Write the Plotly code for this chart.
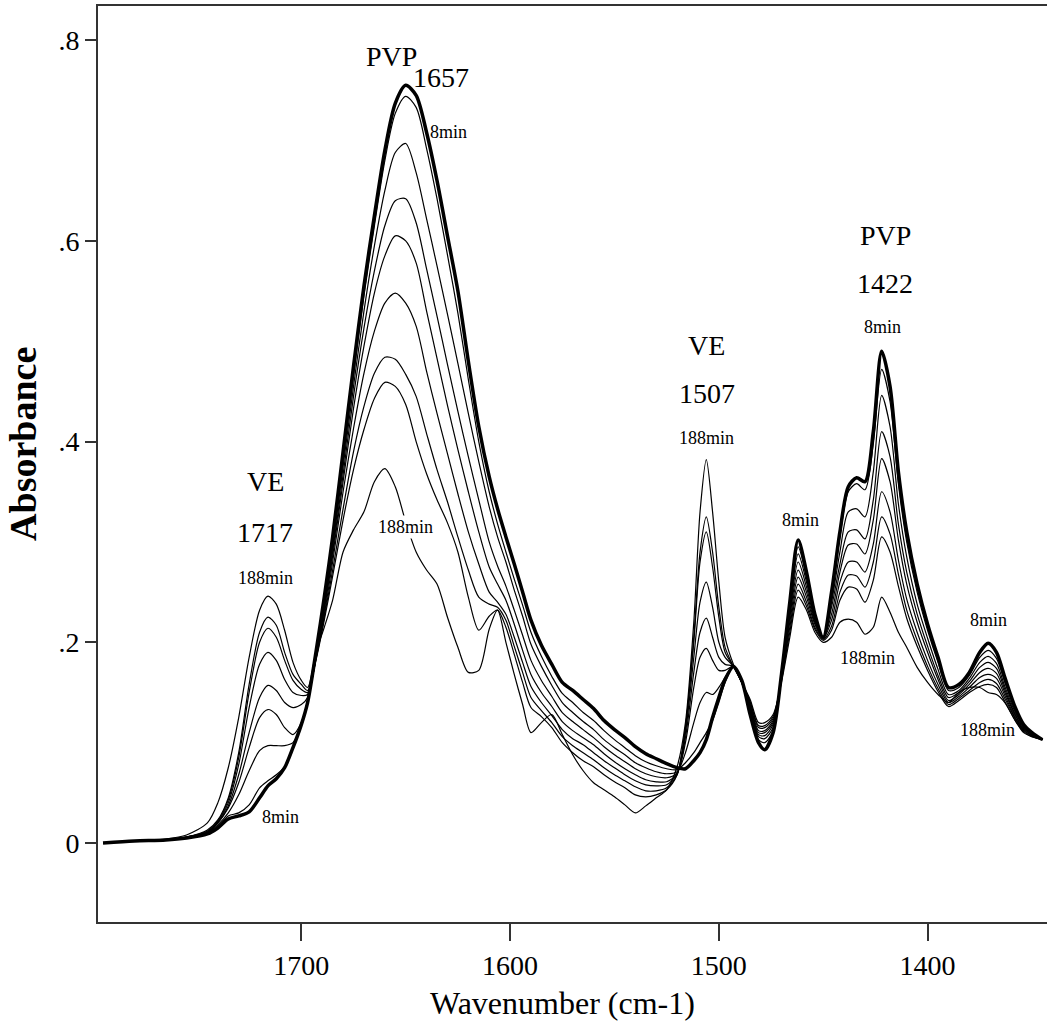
import plotly.graph_objects as go

# Wavenumber grid (cm-1), shared by all spectra
wavenumber = [1795, 1780, 1765, 1755, 1745,
              1740, 1735, 1730, 1725, 1720, 1716, 1712, 1708, 1704, 1700, 1697,
              1693, 1689, 1685, 1680, 1675, 1670, 1665, 1660, 1655, 1650,
              1645, 1640, 1635, 1630, 1625, 1620, 1615, 1610, 1606, 1602, 1598, 1594, 1590,
              1585, 1580, 1575, 1570, 1565, 1560, 1555, 1550, 1545, 1540, 1535, 1530, 1525, 1520,
              1516, 1512, 1509, 1506, 1503, 1500, 1497, 1493,
              1489, 1485, 1481, 1478, 1474, 1470, 1466, 1462, 1458, 1454, 1450, 1446, 1442,
              1438, 1434, 1430, 1426, 1422, 1418, 1414, 1410, 1405, 1400, 1395, 1390, 1385,
              1380, 1375, 1371, 1367, 1363, 1358, 1354, 1350, 1345]

# Spectrum recorded at 8 min (thick line)
spectrum_8min = [0.0, 0.002, 0.003, 0.005, 0.009,
                 0.015, 0.024, 0.027, 0.031, 0.045, 0.057, 0.064, 0.075, 0.095, 0.118, 0.14,
                 0.19, 0.245, 0.305, 0.39, 0.475, 0.555, 0.625, 0.69, 0.737, 0.755,
                 0.745, 0.708, 0.66, 0.605, 0.55, 0.48, 0.415, 0.365, 0.333, 0.305, 0.278, 0.25, 0.222,
                 0.197, 0.178, 0.16, 0.152, 0.143, 0.134, 0.122, 0.113, 0.105, 0.096, 0.089, 0.084, 0.079, 0.075,
                 0.074, 0.082, 0.09, 0.103, 0.125, 0.145, 0.163, 0.176,
                 0.162, 0.128, 0.1, 0.093, 0.11, 0.168, 0.24, 0.302, 0.27, 0.228, 0.205, 0.25, 0.31,
                 0.355, 0.364, 0.36, 0.41, 0.49, 0.455, 0.37, 0.31, 0.258, 0.218, 0.185, 0.155, 0.158,
                 0.17, 0.19, 0.199, 0.19, 0.165, 0.135, 0.118, 0.11, 0.103]

spectrum_2 = [0.0, 0.002, 0.003, 0.005, 0.009,
              0.016, 0.027, 0.03, 0.038, 0.055, 0.062, 0.068, 0.076, 0.095, 0.118, 0.14,
              0.188, 0.242, 0.3, 0.383, 0.465, 0.545, 0.615, 0.68, 0.727, 0.744,
              0.733, 0.692, 0.642, 0.586, 0.528, 0.462, 0.4, 0.35, 0.318, 0.29, 0.263, 0.237, 0.21,
              0.186, 0.166, 0.149, 0.14, 0.13, 0.122, 0.112, 0.103, 0.095, 0.087, 0.081, 0.077, 0.074, 0.073,
              0.08, 0.09, 0.1, 0.11, 0.122, 0.14, 0.16, 0.176,
              0.16, 0.13, 0.103, 0.1, 0.112, 0.165, 0.235, 0.295, 0.265, 0.226, 0.205, 0.245, 0.305,
              0.35, 0.358, 0.352, 0.398, 0.472, 0.44, 0.358, 0.3, 0.25, 0.212, 0.18, 0.152, 0.155,
              0.167, 0.185, 0.192, 0.184, 0.16, 0.132, 0.117, 0.109, 0.103]

spectrum_3 = [0.0, 0.002, 0.003, 0.005, 0.01,
              0.018, 0.03, 0.048, 0.072, 0.092, 0.097, 0.097, 0.097, 0.1, 0.118, 0.14,
              0.186, 0.238, 0.295, 0.375, 0.455, 0.53, 0.595, 0.65, 0.688, 0.697,
              0.668, 0.622, 0.575, 0.527, 0.478, 0.428, 0.38, 0.335, 0.305, 0.28, 0.252, 0.226, 0.198,
              0.176, 0.157, 0.14, 0.13, 0.121, 0.113, 0.103, 0.095, 0.088, 0.08, 0.075, 0.071, 0.069, 0.071,
              0.09, 0.12, 0.14, 0.15, 0.148, 0.155, 0.165, 0.176,
              0.16, 0.132, 0.106, 0.104, 0.115, 0.165, 0.232, 0.288, 0.26, 0.224, 0.205, 0.24, 0.29,
              0.33, 0.333, 0.325, 0.37, 0.446, 0.415, 0.338, 0.285, 0.238, 0.204, 0.173, 0.148, 0.152,
              0.164, 0.18, 0.186, 0.179, 0.156, 0.13, 0.116, 0.109, 0.103]

spectrum_4 = [0.0, 0.002, 0.003, 0.005, 0.01,
              0.02, 0.035, 0.06, 0.095, 0.125, 0.133, 0.128, 0.115, 0.108, 0.12, 0.142,
              0.185, 0.235, 0.29, 0.367, 0.445, 0.513, 0.57, 0.615, 0.64, 0.642,
              0.618, 0.572, 0.525, 0.477, 0.43, 0.385, 0.342, 0.3, 0.276, 0.256, 0.232, 0.207, 0.182,
              0.162, 0.146, 0.13, 0.121, 0.113, 0.105, 0.096, 0.088, 0.081, 0.074, 0.069, 0.066, 0.065, 0.07,
              0.1, 0.155, 0.185, 0.194, 0.182, 0.172, 0.172, 0.176,
              0.16, 0.134, 0.108, 0.107, 0.118, 0.165, 0.228, 0.28, 0.255, 0.222, 0.205, 0.235, 0.278,
              0.31, 0.312, 0.303, 0.342, 0.41, 0.385, 0.318, 0.27, 0.228, 0.196, 0.167, 0.145, 0.15,
              0.161, 0.175, 0.18, 0.174, 0.153, 0.128, 0.115, 0.108, 0.103]

spectrum_5 = [0.0, 0.002, 0.003, 0.005, 0.011,
              0.02, 0.037, 0.068, 0.11, 0.145, 0.157, 0.152, 0.14, 0.135, 0.138, 0.145,
              0.185, 0.232, 0.286, 0.36, 0.433, 0.495, 0.548, 0.585, 0.605, 0.6,
              0.578, 0.53, 0.483, 0.436, 0.392, 0.35, 0.31, 0.275, 0.258, 0.242, 0.218, 0.192, 0.168,
              0.15, 0.136, 0.121, 0.112, 0.105, 0.098, 0.089, 0.081, 0.074, 0.068, 0.063, 0.061, 0.061, 0.069,
              0.105, 0.17, 0.21, 0.224, 0.205, 0.185, 0.178, 0.176,
              0.16, 0.136, 0.11, 0.11, 0.12, 0.165, 0.225, 0.272, 0.25, 0.22, 0.205, 0.228, 0.27,
              0.297, 0.298, 0.288, 0.322, 0.383, 0.36, 0.302, 0.258, 0.22, 0.19, 0.163, 0.142, 0.148,
              0.158, 0.17, 0.174, 0.169, 0.15, 0.127, 0.114, 0.108, 0.103]

spectrum_6 = [0.0, 0.002, 0.003, 0.006, 0.011,
              0.021, 0.04, 0.078, 0.135, 0.178, 0.19, 0.182, 0.163, 0.15, 0.147, 0.148,
              0.184, 0.228, 0.28, 0.35, 0.413, 0.468, 0.51, 0.538, 0.548, 0.538,
              0.515, 0.47, 0.428, 0.388, 0.348, 0.31, 0.278, 0.25, 0.24, 0.228, 0.205, 0.18, 0.156,
              0.14, 0.127, 0.113, 0.104, 0.098, 0.09, 0.082, 0.075, 0.068, 0.062, 0.058, 0.057, 0.058, 0.069,
              0.11, 0.185, 0.24, 0.26, 0.235, 0.2, 0.185, 0.176,
              0.16, 0.138, 0.112, 0.112, 0.122, 0.164, 0.22, 0.265, 0.245, 0.218, 0.204, 0.222, 0.26,
              0.28, 0.28, 0.27, 0.298, 0.35, 0.33, 0.282, 0.243, 0.21, 0.182, 0.158, 0.14, 0.146,
              0.155, 0.165, 0.168, 0.164, 0.147, 0.125, 0.113, 0.107, 0.103]

spectrum_7 = [0.0, 0.002, 0.003, 0.006, 0.012,
              0.022, 0.043, 0.085, 0.15, 0.2, 0.214, 0.205, 0.182, 0.162, 0.153, 0.15,
              0.183, 0.225, 0.272, 0.333, 0.39, 0.435, 0.468, 0.484, 0.482, 0.467,
              0.445, 0.408, 0.372, 0.34, 0.305, 0.272, 0.245, 0.238, 0.235, 0.222, 0.196, 0.17, 0.145,
              0.132, 0.12, 0.106, 0.097, 0.09, 0.083, 0.075, 0.068, 0.062, 0.056, 0.052, 0.052, 0.055, 0.068,
              0.115, 0.2, 0.28, 0.31, 0.275, 0.225, 0.19, 0.176,
              0.16, 0.14, 0.115, 0.115, 0.124, 0.163, 0.215, 0.258, 0.24, 0.215, 0.203, 0.216, 0.25,
              0.267, 0.266, 0.255, 0.28, 0.325, 0.308, 0.268, 0.232, 0.202, 0.176, 0.154, 0.138, 0.144,
              0.152, 0.16, 0.163, 0.159, 0.144, 0.124, 0.112, 0.107, 0.103]

spectrum_8 = [0.0, 0.002, 0.003, 0.006, 0.013,
              0.023, 0.045, 0.09, 0.158, 0.21, 0.225, 0.217, 0.19, 0.168, 0.158, 0.152,
              0.182, 0.222, 0.266, 0.322, 0.372, 0.412, 0.443, 0.459, 0.455, 0.437,
              0.4, 0.368, 0.342, 0.319, 0.29, 0.245, 0.212, 0.226, 0.232, 0.215, 0.188, 0.16, 0.135,
              0.126, 0.115, 0.1, 0.09, 0.082, 0.076, 0.068, 0.061, 0.055, 0.048, 0.046, 0.048, 0.053, 0.068,
              0.115, 0.205, 0.29, 0.325, 0.29, 0.235, 0.195, 0.176,
              0.16, 0.141, 0.117, 0.117, 0.126, 0.162, 0.21, 0.252, 0.236, 0.213, 0.202, 0.212, 0.242,
              0.255, 0.253, 0.24, 0.262, 0.305, 0.29, 0.256, 0.224, 0.196, 0.172, 0.151, 0.136, 0.142,
              0.15, 0.156, 0.158, 0.155, 0.141, 0.122, 0.111, 0.106, 0.103]

# Spectrum recorded at 188 min
spectrum_188min = [0.0, 0.002, 0.004, 0.008, 0.02,
                   0.04, 0.075, 0.125, 0.185, 0.232, 0.246, 0.238, 0.212, 0.18, 0.162, 0.155,
                   0.19, 0.215, 0.242, 0.29, 0.312, 0.33, 0.36, 0.373, 0.355, 0.32,
                   0.29, 0.272, 0.258, 0.225, 0.195, 0.17, 0.172, 0.213, 0.232, 0.2, 0.168, 0.138, 0.11,
                   0.12, 0.128, 0.108, 0.088, 0.072, 0.06, 0.053, 0.046, 0.038, 0.03, 0.037, 0.045, 0.053, 0.076,
                   0.12, 0.22, 0.33, 0.382, 0.33, 0.26, 0.205, 0.178,
                   0.16, 0.143, 0.12, 0.12, 0.128, 0.16, 0.205, 0.245, 0.232, 0.21, 0.2, 0.205, 0.22,
                   0.223, 0.22, 0.208, 0.215, 0.245, 0.23, 0.21, 0.195, 0.175, 0.16, 0.148, 0.14, 0.15,
                   0.155, 0.155, 0.15, 0.148, 0.14, 0.122, 0.11, 0.106, 0.103]

thin_spectra = [spectrum_2, spectrum_3, spectrum_4, spectrum_5,
                spectrum_6, spectrum_7, spectrum_8, spectrum_188min]

# Axis ticks
y_tick_values = [0, 0.2, 0.4, 0.6, 0.8]
y_tick_labels = ["0", ".2", ".4", ".6", ".8"]
x_tick_values = [1700, 1600, 1500, 1400]
x_tick_labels = ["1700", "1600", "1500", "1400"]

# Peak labels
label_text = ["PVP", "1657", "8min",
              "VE", "1717", "188min", "8min",
              "188min",
              "VE", "1507", "188min",
              "8min",
              "PVP", "1422", "8min", "188min",
              "8min", "188min"]
label_wn = [1657, 1633, 1629.6,
            1717.2, 1717.2, 1717.2, 1710,
            1650.2,
            1505.9, 1505.9, 1505.9,
            1460.9,
            1420.2, 1420.2, 1421.6, 1428.8,
            1370.8, 1371.3]
label_abs = [0.784, 0.763, 0.708,
             0.360, 0.309, 0.264, 0.026,
             0.315,
             0.496, 0.448, 0.404,
             0.322,
             0.605, 0.558, 0.514, 0.184,
             0.222, 0.113]

for s in [spectrum_8min] + thin_spectra:
    assert len(s) == len(wavenumber)

FONT = "Liberation Serif, Times New Roman, serif"

fig = go.Figure()
for s in thin_spectra:
    fig.add_trace(go.Scatter(x=wavenumber, y=s, mode="lines",
                             line=dict(color="black", width=1.2, shape="spline", smoothing=0.8),
                             hoverinfo="skip", showlegend=False))
fig.add_trace(go.Scatter(x=wavenumber, y=spectrum_8min, mode="lines",
                         line=dict(color="black", width=3.5, shape="spline", smoothing=0.8),
                         hoverinfo="skip", showlegend=False))

for t, wx, ay in zip(label_text, label_wn, label_abs):
    small = t.endswith("min")
    fig.add_annotation(x=wx, y=ay, text=t, showarrow=False, xref="x", yref="y",
                       xanchor="center", yanchor="middle",
                       font=dict(family=FONT, size=18 if small else 28, color="black"),
                       bgcolor="white" if (t == "188min" and 1640 < wx < 1660) else None)

# Axis titles
fig.add_annotation(text="Wavenumber (cm-1)", xref="paper", yref="paper",
                   x=0.489, y=-0.088, xanchor="center", yanchor="middle", showarrow=False,
                   font=dict(family=FONT, size=32, color="black"))
fig.add_annotation(text="<b>Absorbance</b>", xref="paper", yref="paper",
                   x=-0.079, y=0.522, xanchor="center", yanchor="middle", showarrow=False,
                   textangle=-90,
                   font=dict(family=FONT, size=38, color="black"))

fig.update_xaxes(range=[1797.4, 1342.8], showline=True, linecolor="#333", linewidth=2,
                 mirror=True, ticks="outside", ticklen=17, tickwidth=2, tickcolor="#333",
                 tickvals=x_tick_values, ticktext=x_tick_labels, showgrid=False, zeroline=False,
                 tickfont=dict(family=FONT, size=28, color="black"))
fig.update_yaxes(range=[-0.0787, 0.834], showline=True, linecolor="#333", linewidth=2,
                 ticks="outside", ticklen=11, tickwidth=2, tickcolor="#333",
                 tickvals=y_tick_values, ticktext=y_tick_labels, showgrid=False, zeroline=False,
                 tickfont=dict(family=FONT, size=28, color="black"))

fig.update_layout(width=1047, height=1032, margin=dict(l=98, r=0, t=6, b=110),
                  paper_bgcolor="white", plot_bgcolor="white")

fig.write_html("out.html", config={"displayModeBar": False},
               post_script="document.body.style.margin='0';document.body.style.overflow='hidden';")
